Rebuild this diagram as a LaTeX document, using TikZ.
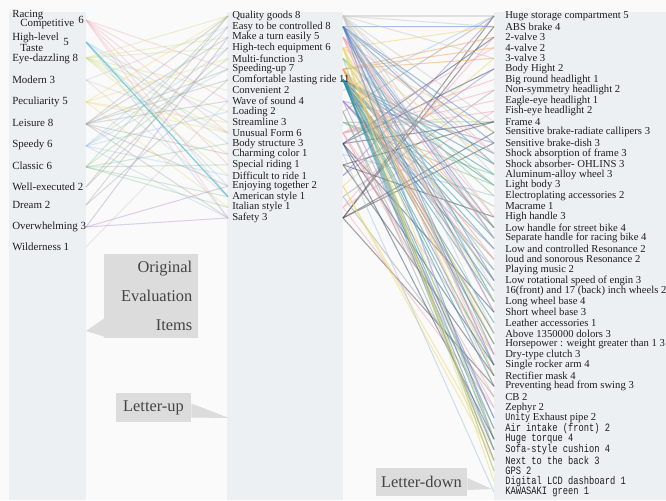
\documentclass[tikz,border=0pt]{standalone}
\usepackage{fontspec}
\setmainfont{Liberation Serif}
\newfontfamily\monof[FakeStretch=0.78]{Liberation Mono}
\definecolor{bgc}{HTML}{FAFAFA}
\definecolor{panel}{HTML}{EDF0F3}
\definecolor{callg}{HTML}{DCDCDC}
\definecolor{calltxt}{HTML}{444444}
\definecolor{txt}{HTML}{1E1E1E}
\definecolor{pk}{HTML}{F4A6B7}
\definecolor{lb}{HTML}{9EC3E6}
\definecolor{cy}{HTML}{4FC3D6}
\definecolor{yg}{HTML}{CFDC7E}
\definecolor{gy}{HTML}{A0A0A0}
\definecolor{lg}{HTML}{C8C8C8}
\definecolor{or}{HTML}{F2A65A}
\definecolor{pu}{HTML}{9E86C8}
\definecolor{te}{HTML}{2E8FA8}
\definecolor{nv}{HTML}{34496E}
\definecolor{gr}{HTML}{84C48F}
\definecolor{dg}{HTML}{4A4A4A}
\definecolor{ye}{HTML}{EED86A}
\definecolor{bl}{HTML}{4F86C6}
\tikzset{
  llab/.style={anchor=west, inner sep=0pt, text=txt, font=\fontsize{8.2}{9}\selectfont},
  mlab/.style={anchor=west, inner sep=0pt, text=txt, font=\fontsize{8}{9}\selectfont},
  rlab/.style={anchor=west, inner sep=0pt, text=txt, font=\fontsize{8}{9}\selectfont},
  link/.style={line width=0.8pt, opacity=0.5},
  faint/.style={line width=0.8pt, opacity=0.35},
  callbox/.style={fill=callg, text=calltxt, inner sep=0pt, font=\fontsize{12.3}{21.75}\selectfont},
}
\begin{document}
\begin{tikzpicture}[x=0.75pt,y=-0.75pt]
\useasboundingbox (0,0) rectangle (666,500);
\clip (0,0) rectangle (666,500);
\fill[bgc] (0,0) rectangle (666,500);
\fill[panel] (9,12) rectangle (86,500);
\fill[panel] (227,12) rectangle (343,500);
\fill[panel] (494,12) rectangle (666,500);

% anchor points
\foreach \y [count=\i] in {20,42,58,80,102,124,146,167,187,205,227,247}
  \coordinate (L\i) at (86,\y);
\foreach \i in {1,...,20} {
  \coordinate (M\i) at (228,{16+(\i-1)*10.63});
  \coordinate (N\i) at (343,{16+(\i-1)*10.63});
}
\foreach \i in {1,...,46}
  \coordinate (R\i) at (494,{16+(\i-1)*10.58});

% left -> middle links
\foreach \a/\c/\bs in {
  1/pk/{6,9,12,15,18,20},
  2/lb/{11,13,17,20},
  3/yg/{1,3,4,8,10,12,14,16},
  4/lg/{2,12,18},
  5/ye/{1,5,11,12,19},
  6/gy/{1,3,6,7,9,14,17,20},
  7/lb/{2,4,6,10,16,20},
  8/gr/{1,5,13,15,18,19},
  9/gy/{1,4},
  10/gy/{2,7},
  11/pu/{3,17,20},
  12/lg/{9}}
  { \foreach \b in \bs { \draw[faint, color=\c] (L\a) -- (M\b); } }
\draw[link, color=cy, opacity=0.7, line width=1pt] (L2) -- (M18);

% middle -> right links (coloured by their middle item)
\foreach \k/\ss in {
  1/{1,8,10,20,16}, 2/{1,2,4,20}, 3/{6,13,19}, 4/{6,12}, 5/{6,1,17},
  6/{13,16}, 7/{12}, 8/{12,18}, 9/{12}, 10/{12,19},
  11/{1,11,13,15}, 12/{2,4,20}, 13/{2,20,9}, 14/{7,1,3}, 15/{7,4,2},
  16/{1,7,11}, 17/{7,11,5}, 18/{5,14}, 19/{11}, 20/{1,15,3},
  21/{2,3,6,7}, 22/{2,3,7,1}, 23/{7,9}, 24/{9,6}, 25/{5,9},
  26/{6,7,2}, 27/{7,1}, 28/{1,7,2,4}, 29/{2,3,13}, 30/{7},
  31/{6,7,1}, 32/{4,6,7}, 33/{6,2,12}, 34/{2,3,7,13}, 35/{1,7,4,15},
  36/{3,7,20}, 37/{12,18}, 38/{12,19}, 39/{7,9}, 40/{7,10},
  41/{2,7,4,13}, 42/{1,10,17,7}, 43/{17,7,6}, 44/{4,5}, 45/{4}, 46/{14}}
  { \foreach \a in \ss {
      \edef\col{\ifcase\a\or lg\or bl\or pk\or ye\or gr\or or\or te\or lb\or pu\or gy\or
        gr\or pk\or nv\or lb\or dg\or pu\or ye\or gy\or pk\or dg\fi}
      \draw[link, color=\col] (N\a) -- (R\k); } }

% left labels
\node[llab] (lt1a) at (12,15) {Racing};
\node[llab] (lt1b) at (20,24) {Competitive};
\node[llab] (lt1c) at (78,20) {6};
\node[llab] (lt2a) at (12,38) {High-level};
\node[llab] (lt2c) at (63,42) {5};
\node[llab] (lt2b) at (20,48) {Taste};
\node[llab] (lt3) at (12,59) {Eye-dazzling 8};
\node[llab] (lt4) at (12,80) {Modern 3};
\node[llab] (lt5) at (12,102) {Peculiarity 5};
\node[llab] (lt6) at (12,123) {Leisure 8};
\node[llab] (lt7) at (12,145) {Speedy 6};
\node[llab] (lt8) at (12,166) {Classic 6};
\node[llab] (lt9) at (12,187) {Well-executed 2};
\node[llab] (lt10) at (12,205) {Dream 2};
\node[llab] (lt11) at (12,227) {Overwhelming 3};
\node[llab] (lt12) at (12,247) {Wilderness 1};

% middle labels
\foreach \t [count=\i] in {Quality goods 8, Easy to be controlled 8, Make a turn easily 5,
  High-tech equipment 6, Multi-function 3, Speeding-up 7, Comfortable lasting ride 11,
  Convenient 2, Wave of sound 4, Loading 2, Streamline 3, Unusual Form 6,
  Body structure 3, Charming color 1, Special riding 1, Difficult to ride 1,
  Enjoying together 2, American style 1, Italian style 1, Safety 3}
  \node[mlab] (mt\i) at (232,{16+(\i-1)*10.63}) {\t};

% right labels
\foreach \t [count=\i] in {Huge storage compartment 5, ABS brake 4, 2-valve 3, 4-valve 2,
  3-valve 3, Body Hight 2, Big round headlight 1, Non-symmetry headlight 2,
  Eagle-eye headlight 1, Fish-eye headlight 2, Frame 4,
  Sensitive brake-radiate callipers 3, Sensitive brake-dish 3,
  Shock absorption of frame 3, Shock absorber- OHLINS 3, Aluminum-alloy wheel 3,
  Light body 3, Electroplating accessories 2, Macrame 1, High handle 3,
  Low handle for  street bike 4, Separate handle for racing  bike 4,
  Low and controlled Resonance 2, loud and sonorous Resonance 2, Playing music 2,
  Low rotational speed of engin 3, 16(front) and 17 (back) inch wheels 2,
  Long wheel base 4, Short wheel base 3, Leather accessories 1,
  Above 1350000 dolors 3, Horsepower : weight greater than 1 3, Dry-type clutch 3,
  Single rocker arm 4, Rectifier mask 4, Preventing head from swing 3, CB 2, Zephyr 2}
  \node[rlab] (rt\i) at (505,{16+(\i-1)*10.58}) {\t};
\node[rlab] (rt39) at (505,{16+38*10.58}) {{\monof Unity} Exhaust pipe 2};
\foreach \t [count=\j from 40] in {Air intake (front) 2, Huge torque 4, Sofa-style cushion 4,
  Next to the back 3, GPS 2, Digital LCD dashboard 1, KAWASAKI green 1}
  \node[rlab, font=\monof\fontsize{8.4}{9}\selectfont] (rt\j) at (505,{16+(\j-1)*10.58}) {\t};

% callouts
\node[callbox, anchor=north west, minimum width=70.5pt, minimum height=63pt,
      text width=61.5pt, align=right] (oei) at (104,254) {Original\\Evaluation\\Items};
\coordinate (oeitip) at (86,331);
\fill[callg] ([yshift=15pt]oei.south west) -- (oeitip) -- ([yshift=1.5pt]oei.south west) -- cycle;

\node[callbox, minimum width=56.25pt, minimum height=21.75pt] (lup) at (153.5,407.5) {Letter-up};
\coordinate (luptip) at (229,418);
\fill[callg] ([yshift=3pt]lup.east) -- (luptip) -- ([yshift=-7.5pt]lup.east) -- cycle;

\node[callbox, minimum width=68.25pt, minimum height=21pt] (ldn) at (421.5,482) {Letter-down};
\coordinate (ldntip) at (492,489);
\fill[callg] ([yshift=3pt]ldn.east) -- (ldntip) -- ([yshift=-6pt]ldn.east) -- cycle;
\end{tikzpicture}
\end{document}
